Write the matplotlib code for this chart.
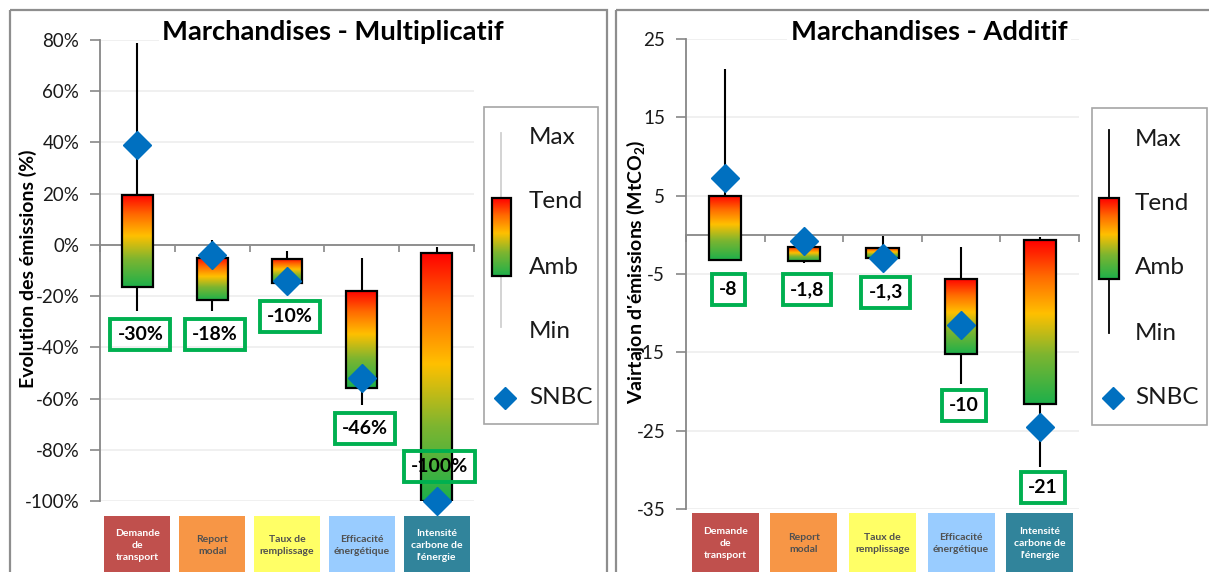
import numpy as np
import matplotlib
matplotlib.use('Agg')
import matplotlib.pyplot as plt
from matplotlib.colors import LinearSegmentedColormap
from matplotlib.patches import Rectangle
from matplotlib.transforms import blended_transform_factory

plt.rcParams['font.family'] = ['Lato', 'DejaVu Sans']
plt.rcParams['mathtext.fontset'] = 'custom'
plt.rcParams['mathtext.rm'] = 'Lato'
plt.rcParams['mathtext.bf'] = 'Lato:bold'

# ---------------- data ----------------
categories = ["Demande\nde\ntransport", "Report\nmodal", "Taux de\nremplissage",
              "Efficacité\nénergétique", "Intensité\ncarbone de\nl'énergie"]
cat_colors = ['#C0504D', '#F79646', '#FFFF66', '#99CCFF', '#31849B']
cat_text_colors = ['white', '#505050', '#505050', '#505050', 'white']

# Multiplicatif (%)
mult_max = [79, 2, -2.5, -5, -1]
mult_tend = [19.5, -5, -5.5, -18, -3]
mult_amb = [-16.5, -21.5, -15, -56, -100]
mult_min = [-26, -26, -15, -62.5, -100]
mult_snbc = [39, -4, -14, -52, -100]
mult_labels = ['-30%', '-18%', '-10%', '-46%', '-100%']
mult_yticks = [-100, -80, -60, -40, -20, 0, 20, 40, 60, 80]

# Additif (MtCO2)
add_max = [21.2, -1.2, -0.2, -1.5, -0.3]
add_tend = [5, -1.5, -1.7, -5.6, -0.7]
add_amb = [-3.2, -3.3, -3.0, -15.2, -21.6]
add_min = [-3.4, -3.6, -3.0, -19, -29.6]
add_snbc = [7.2, -0.8, -3.0, -11.5, -24.5]
add_labels = ['-8', '-1,8', '-1,3', '-10', '-21']
add_yticks = [-35, -25, -15, -5, 5, 15, 25]

# ---------------- layout ----------------
W, H = 1209, 572
mult_label_y = [-35, -35, -28, -71.5, -86.5]
add_label_y = [-7, -7, -7.3, -21.8, -32.3]

cmap = LinearSegmentedColormap.from_list(
    'tend', [(0.0, '#1DB04B'), (0.3, '#7DB530'), (0.55, '#FFC000'),
             (0.78, '#FF6A00'), (1.0, '#FF0000')])
grad = np.linspace(0, 1, 256).reshape(-1, 1)

fig = plt.figure(figsize=(W / 100, H / 100), dpi=100, facecolor='white')


def px_axes(x0, y0, x1, y1, **kw):
    return fig.add_axes([x0 / W, 1 - y1 / H, (x1 - x0) / W, (y1 - y0) / H], **kw)


GRAY = '#878787'


def draw_panel(ax, mx, td, am, mn, sn, labels, label_y, ylim, yticks, fmt,
               box_w, cat_y0, cat_y1, cat_w, label_fs):
    x = np.arange(len(categories))
    ax.set_facecolor('none')
    ax.vlines(x, mn, mx, color='black', lw=1.5, zorder=2)
    for xi, t, a in zip(x, td, am):
        ax.imshow(grad, extent=[xi - box_w / 2, xi + box_w / 2, a, t], aspect='auto',
                  cmap=cmap, origin='lower', zorder=3, interpolation='bilinear')
        ax.add_patch(Rectangle((xi - box_w / 2, a), box_w, t - a, fill=False,
                               ec='black', lw=1.6, zorder=4))
    ax.plot(x, sn, ls='none', marker='D', ms=14, color='#0070C0', mec='#0070C0',
            zorder=5, clip_on=False)
    for xi, ly, lab in zip(x, label_y, labels):
        ax.text(xi + 0.04, ly, lab, ha='center', va='center', fontsize=label_fs,
                fontweight='bold', color='black', zorder=7,
                bbox=dict(boxstyle='square,pad=0.36', fc='none', ec='#00B050', lw=2.8))
    ax.set_xlim(-0.5, len(categories) - 0.5)
    ax.set_ylim(*ylim)
    ax.set_yticks(yticks)
    ax.set_yticklabels([fmt(v) for v in yticks])
    ax.yaxis.grid(True, color='#EDEDED', lw=1.2)
    ax.set_axisbelow(True)
    for s in ['top', 'right']:
        ax.spines[s].set_visible(False)
    ax.spines['left'].set_color(GRAY)
    ax.spines['left'].set_linewidth(1.3)
    ax.spines['bottom'].set_position(('data', 0))
    ax.spines['bottom'].set_color(GRAY)
    ax.spines['bottom'].set_linewidth(1.3)
    ax.set_xticks(np.arange(len(categories) + 1) - 0.5)
    ax.set_xticklabels([])
    ax.tick_params(axis='x', direction='out', length=5, color=GRAY, width=1.2)
    ax.tick_params(axis='y', direction='out', length=7, color=GRAY, width=1.2,
                   labelsize=13.5, pad=8, labelcolor='#1A1A1A')
    tr = blended_transform_factory(ax.transData, ax.transAxes)
    for xi, lab, c, tc in zip(x, categories, cat_colors, cat_text_colors):
        ax.add_patch(Rectangle((xi - cat_w / 2, cat_y1), cat_w, cat_y0 - cat_y1,
                               transform=tr, fc=c, ec='none', clip_on=False))
        ax.text(xi, (cat_y0 + cat_y1) / 2, lab, transform=tr, ha='center', va='center',
                fontsize=7.5, fontweight='bold', color=tc, linespacing=1.45,
                clip_on=False)


# left panel
axL = px_axes(100, 40, 474, 501)
draw_panel(axL, mult_max, mult_tend, mult_amb, mult_min, mult_snbc, mult_labels,
           mult_label_y, (-100, 80), mult_yticks, lambda v: f"{v}%",
           0.41, -0.033, -0.16, 0.88, 14)

# right panel
axR = px_axes(686, 39, 1079, 509)
draw_panel(axR, add_max, add_tend, add_amb, add_min, add_snbc, add_labels,
           add_label_y, (-35, 25), add_yticks, lambda v: f"{v}",
           0.41, -0.008, -0.14, 0.85, 14)

# overlay for panel frames and legends
ov = fig.add_axes([0, 0, 1, 1], zorder=10)
ov.set_xlim(0, W)
ov.set_ylim(H, 0)
ov.axis('off')
ov.set_facecolor('none')
ov.add_patch(Rectangle((10, 10), 597, 600, fill=False, ec='#8E8E8E', lw=1.6))
ov.add_patch(Rectangle((616, 10), 620, 600, fill=False, ec='#8E8E8E', lw=1.6))


def draw_legend(x0, y0, x1, y1, line_x, line_y0, line_y1, line_color,
                bx0, bx1, by0, by1, text_x, ys):
    ov.add_patch(Rectangle((x0, y0), x1 - x0, y1 - y0, fc='white', ec='#A6A6A6', lw=1.2))
    ov.plot([line_x, line_x], [line_y0, line_y1], color=line_color, lw=1.3)
    ov.imshow(grad, extent=[bx0, bx1, by1, by0], aspect='auto', cmap=cmap,
              origin='lower', zorder=3, interpolation='bilinear')
    ov.add_patch(Rectangle((bx0, by0), bx1 - bx0, by1 - by0, fill=False, ec='black',
                           lw=1.6, zorder=4))
    for lab, yy in zip(['Max', 'Tend', 'Amb', 'Min', 'SNBC'], ys):
        ov.text(text_x, yy, lab, ha='left', va='center', fontsize=17.5, color='#1A1A1A')
    ov.plot([line_x + 4], [ys[-1]], marker='D', ms=11.5, color='#0070C0',
            mec='#0070C0', ls='none', zorder=5)
    ov.set_xlim(0, W)
    ov.set_ylim(H, 0)


draw_legend(484, 107, 598, 424, 501, 133, 327, '#D0D0D0',
            492, 511, 198, 276, 529, [137, 201, 267, 332, 398])
draw_legend(1092, 108, 1207, 425, 1109, 130, 333, 'black',
            1099, 1119, 198, 279, 1135, [139, 203, 268, 333, 398])

# titles
fig.text(333 / W, 1 - 32 / H, 'Marchandises - Multiplicatif', ha='center', va='center',
         fontsize=19.7, fontweight='bold', zorder=8,
         bbox=dict(boxstyle='square,pad=0.12', fc='white', ec='none'))
fig.text(929 / W, 1 - 32 / H, 'Marchandises - Additif', ha='center', va='center',
         fontsize=19.7, fontweight='bold', zorder=8,
         bbox=dict(boxstyle='square,pad=0.12', fc='white', ec='none'))

# y labels
fig.text(28 / W, 1 - 269 / H, 'Evolution des émissions (%)', rotation=90,
         ha='center', va='center', fontsize=14, fontweight='bold')
fig.text(636 / W, 1 - 272 / H, "Vairtajon d'émissions (MtCO$_\\mathbf{2}$)", rotation=90,
         ha='center', va='center', fontsize=14, fontweight='bold')

fig.savefig('out.png', dpi=100, facecolor='white')
